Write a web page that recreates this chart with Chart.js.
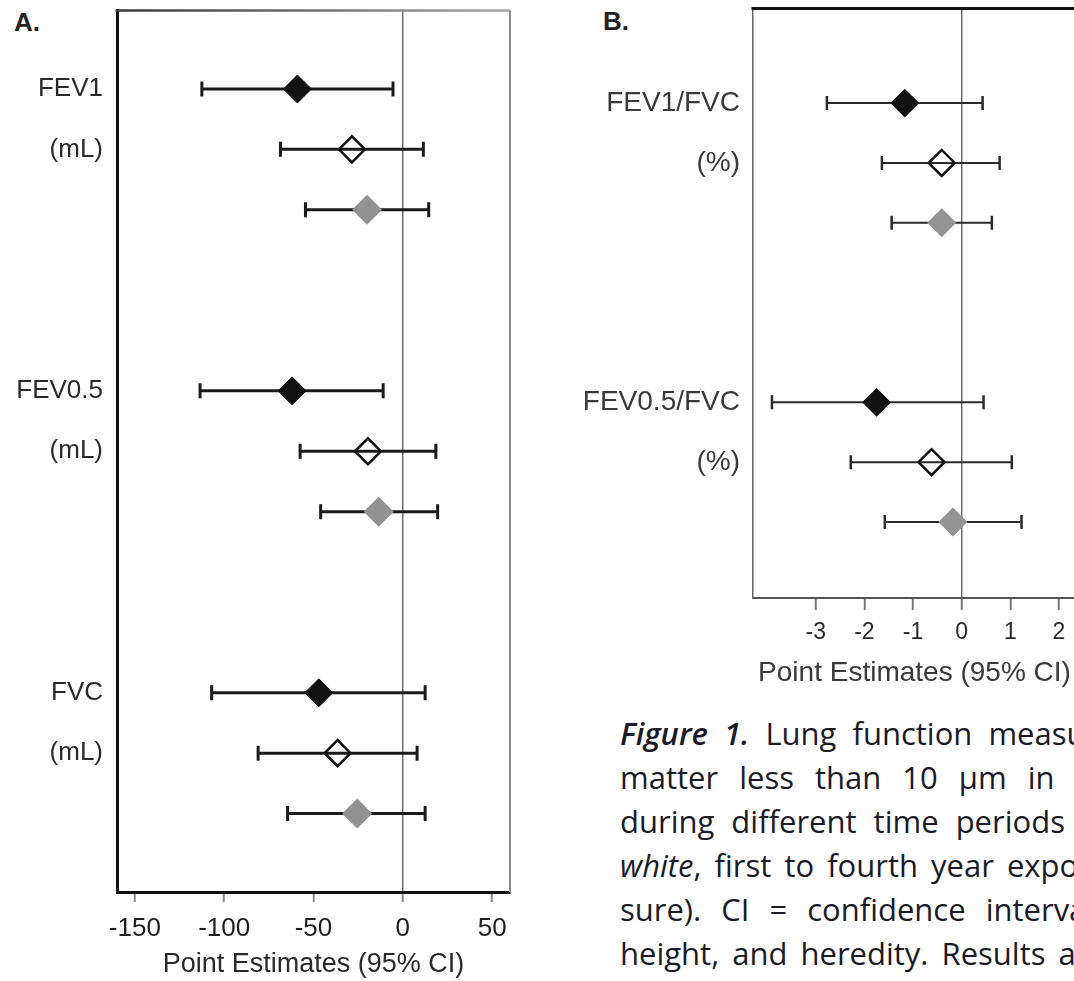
<!DOCTYPE html>
<html lang="en">
<head>
  <meta charset="UTF-8" />
  <title>Lung function point estimates (95% CI)</title>
  <script src="https://cdn.jsdelivr.net/npm/chart.js"></script>
  <style>
    html, body {
      margin: 0;
      padding: 0;
      background: #fff;
    }
    body {
      width: 1074px;
      height: 981px;
      overflow: hidden;
      position: relative;
      font-family: 'Liberation Sans', Arial, sans-serif;
    }
    /* the plot boxes sit a little higher than chart.js' label padding allows */
    #chartA { position: absolute; left: 0; top: -5px; }
    #chartB { position: absolute; left: 560px; top: -7px; }
    .panel-letter {
      position: absolute;
      font-weight: bold;
      font-size: 26px;
      line-height: 30px;
      color: #222;
    }
    #caption {
      position: absolute;
      left: 620px;
      top: 711px;
      font-family: 'Open Sans', sans-serif;
      font-size: 31px;
      line-height: 44px;
      color: #1a1a28;
      white-space: nowrap;
    }
    #caption div { word-spacing: 8px; }
  </style>
</head>
<body>
  <div class="panel-letter" style="left:14px; top:7px;">A.</div>
  <div class="panel-letter" style="left:603px; top:6px;">B.</div>
  <canvas id="chartA" width="540" height="986"></canvas>
  <canvas id="chartB" width="540" height="707"></canvas>
  <div id="caption">
    <div><i style="font-weight:600">Figure 1.</i> Lung function measurements</div>
    <div style="word-spacing:13px">matter less than 10 μm in a</div>
    <div style="word-spacing:9px">during different time periods</div>
    <div style="word-spacing:5px"><i>white</i>, first to fourth year exposure</div>
    <div style="word-spacing:12px">sure). CI = confidence interval</div>
    <div style="word-spacing:5px">height, and heredity. Results are</div>
  </div>

  <script>
    // ---- panel A: absolute lung function (mL) ----
    const xTicksA = [-150, -100, -50, 0, 50];
    const outcomesA = ['FEV1', 'FEV0.5', 'FVC'];
    const unitsA = ['(mL)', '(mL)', '(mL)'];

    const blackEstA = [-59, -62, -47];
    const blackLoA = [-112.5, -113.5, -107];
    const blackHiA = [-5.5, -11, 12.5];

    const whiteEstA = [-28.5, -19.5, -36.5];
    const whiteLoA = [-68.5, -57.5, -81];
    const whiteHiA = [11.5, 18.5, 8];

    const grayEstA = [-20, -13.5, -25.5];
    const grayLoA = [-54.5, -46, -64.5];
    const grayHiA = [14.5, 19.5, 12.5];

    // ---- panel B: ratios (%) ----
    const xTicksB = [-3, -2, -1, 0, 1, 2];
    const outcomesB = ['FEV1/FVC', 'FEV0.5/FVC'];
    const unitsB = ['(%)', '(%)'];

    const blackEstB = [-1.17, -1.75];
    const blackLoB = [-2.77, -3.9];
    const blackHiB = [0.43, 0.45];

    const whiteEstB = [-0.41, -0.62];
    const whiteLoB = [-1.64, -2.28];
    const whiteHiB = [0.78, 1.03];

    const grayEstB = [-0.41, -0.18];
    const grayLoB = [-1.44, -1.58];
    const grayHiB = [0.62, 1.23];

    const GROUP_STEP = 5; // rows per outcome block (3 estimates + gap)

    Chart.defaults.font.family = "'Liberation Sans', Arial, sans-serif";
    Chart.defaults.animation = false;

    // top / right edges of the plot box
    const framePlugin = {
      id: 'frame',
      beforeDatasetsDraw(chart, args, opts) {
        const { ctx, chartArea: a } = chart;
        ctx.save();
        if (opts.top) {
          let stroke = opts.top.color;
          if (opts.top.fade) {
            stroke = ctx.createLinearGradient(a.left, 0, a.right, 0);
            stroke.addColorStop(0, opts.top.color);
            stroke.addColorStop(1, opts.top.fade);
          }
          ctx.strokeStyle = stroke;
          ctx.lineWidth = opts.top.width;
          ctx.beginPath();
          ctx.moveTo(a.left - 1.5, a.top);
          ctx.lineTo(a.right, a.top);
          ctx.stroke();
        }
        if (opts.right) {
          ctx.strokeStyle = opts.right.color;
          ctx.lineWidth = opts.right.width;
          ctx.beginPath();
          ctx.moveTo(a.right, a.top);
          ctx.lineTo(a.right, a.bottom);
          ctx.stroke();
        }
        ctx.restore();
      }
    };

    // keep the plot box exactly where the figure has it
    function fixSize(prop, size) {
      return s => {
        s[prop] = size;
        s.paddingTop = 0;
        s.paddingBottom = 0;
        s.paddingLeft = 0;
        s.paddingRight = 0;
      };
    }

    function makeSeries(est, lo, hi, rowInGroup, style) {
      const sets = [];
      est.forEach((v, j) => {
        const y = j * GROUP_STEP + rowInGroup;
        sets.push({
          data: [{ x: lo[j], y: y }, { x: hi[j], y: y }],
          showLine: true,
          borderColor: style.line,
          borderWidth: style.lineWidth,
          pointStyle: 'line',
          pointRotation: 90,
          pointRadius: style.cap,
          pointBorderWidth: style.capWidth,
          pointBorderColor: style.line,
          order: 2
        });
      });
      sets.push({
        data: est.map((v, j) => ({ x: v, y: j * GROUP_STEP + rowInGroup })),
        pointStyle: 'rectRot',
        pointRadius: style.r,
        pointBackgroundColor: style.fill,
        pointBorderColor: style.stroke,
        pointBorderWidth: style.strokeWidth,
        order: 1
      });
      return sets;
    }

    function labelRows(outcomes) {
      return outcomes.flatMap((o, j) => [j * GROUP_STEP, j * GROUP_STEP + 1]);
    }
    function labelTexts(outcomes, units) {
      return outcomes.flatMap((o, j) => [o, units[j]]);
    }

    // panel A
    const styleA = { line: '#1a1a1a', lineWidth: 3, cap: 7.5, capWidth: 3 };
    const rowsA = labelRows(outcomesA);
    const yLabelsA = labelTexts(outcomesA, unitsA);

    new Chart(document.getElementById('chartA'), {
      type: 'scatter',
      data: {
        datasets: [
          ...makeSeries(blackEstA, blackLoA, blackHiA, 0, { ...styleA, r: 14, fill: '#111', stroke: '#111', strokeWidth: 1 }),
          ...makeSeries(whiteEstA, whiteLoA, whiteHiA, 1, { ...styleA, r: 13, fill: 'rgba(255,255,255,0)', stroke: '#111', strokeWidth: 2.5 }),
          ...makeSeries(grayEstA, grayLoA, grayHiA, 2, { ...styleA, r: 15, fill: '#929292', stroke: '#929292', strokeWidth: 0 })
        ]
      },
      plugins: [framePlugin],
      options: {
        responsive: false,
        events: [],
        layout: { padding: { left: 0, top: 6, right: 30, bottom: 0 } },
        plugins: {
          legend: { display: false },
          tooltip: { enabled: false },
          frame: {
            top: { color: '#3a3a3a', fade: '#a8a8a8', width: 2.5 },
            right: { color: '#8a8a8a', width: 2 }
          }
        },
        scales: {
          x: {
            type: 'linear',
            min: -160,
            max: 60,
            afterBuildTicks: s => { s.ticks = xTicksA.map(v => ({ value: v })); },
            afterFit: fixSize('height', 89),
            grid: {
              color: c => (c.tick && c.tick.value === 0 ? '#6e6e6e' : 'rgba(0,0,0,0)'),
              lineWidth: 1.5,
              tickColor: '#8a8a8a',
              tickWidth: 2,
              tickLength: 10
            },
            border: { display: true, color: '#111', width: 3 },
            ticks: {
              autoSkip: false,
              maxRotation: 0,
              padding: 11,
              color: '#1e1e1e',
              font: { size: 26 },
              callback: v => v
            },
            title: {
              display: true,
              text: 'Point Estimates (95% CI)',
              color: '#2a2a2a',
              font: { size: 27 },
              padding: { top: 0, bottom: 0 }
            }
          },
          y: {
            type: 'linear',
            reverse: true,
            min: -1.3,
            max: 13.3,
            afterBuildTicks: s => { s.ticks = rowsA.map(v => ({ value: v })); },
            afterFit: fixSize('width', 117),
            grid: { display: false, drawTicks: false },
            border: { display: true, color: '#111', width: 3 },
            ticks: {
              autoSkip: false,
              padding: 14,
              color: '#2a2a2a',
              font: { size: 26 },
              callback: (v, i) => yLabelsA[i]
            }
          }
        }
      }
    });

    // panel B
    const styleB = { line: '#2a2a2a', lineWidth: 2, cap: 7, capWidth: 2.5 };
    const rowsB = labelRows(outcomesB);
    const yLabelsB = labelTexts(outcomesB, unitsB);

    new Chart(document.getElementById('chartB'), {
      type: 'scatter',
      data: {
        datasets: [
          ...makeSeries(blackEstB, blackLoB, blackHiB, 0, { ...styleB, r: 13, fill: '#111', stroke: '#111', strokeWidth: 2 }),
          ...makeSeries(whiteEstB, whiteLoB, whiteHiB, 1, { ...styleB, r: 13, fill: 'rgba(255,255,255,0)', stroke: '#111', strokeWidth: 2.5 }),
          ...makeSeries(grayEstB, grayLoB, grayHiB, 2, { ...styleB, r: 14.5, fill: '#939393', stroke: '#939393', strokeWidth: 0 })
        ]
      },
      plugins: [framePlugin],
      options: {
        responsive: false,
        events: [],
        layout: { padding: { left: 0, top: 2, right: 24, bottom: 0 } },
        plugins: {
          legend: { display: false },
          tooltip: { enabled: false },
          frame: { top: { color: '#111', width: 3 } }
        },
        scales: {
          x: {
            type: 'linear',
            min: -4.29,
            max: 2.35,
            afterBuildTicks: s => { s.ticks = xTicksB.map(v => ({ value: v })); },
            afterFit: fixSize('height', 102),
            grid: {
              color: c => (c.tick && c.tick.value === 0 ? '#6e6e6e' : 'rgba(0,0,0,0)'),
              lineWidth: 1.5,
              tickColor: '#777',
              tickWidth: 2,
              tickLength: 12
            },
            border: { display: true, color: '#555', width: 2 },
            ticks: {
              autoSkip: false,
              maxRotation: 0,
              padding: 9,
              color: '#2a2a2a',
              font: { size: 23 },
              callback: v => v
            },
            title: {
              display: true,
              text: 'Point Estimates (95% CI)',
              color: '#3a3a3a',
              font: { size: 28 },
              padding: { top: 0, bottom: 10 }
            }
          },
          y: {
            type: 'linear',
            reverse: true,
            min: -1.58,
            max: 8.27,
            afterBuildTicks: s => { s.ticks = rowsB.map(v => ({ value: v })); },
            afterFit: fixSize('width', 193),
            grid: { display: false, drawTicks: false },
            border: { display: true, color: '#666', width: 1.5 },
            ticks: {
              autoSkip: false,
              padding: 13,
              color: '#3a3a3a',
              font: { size: 28 },
              callback: (v, i) => yLabelsB[i]
            }
          }
        }
      }
    });
  </script>
</body>
</html>
